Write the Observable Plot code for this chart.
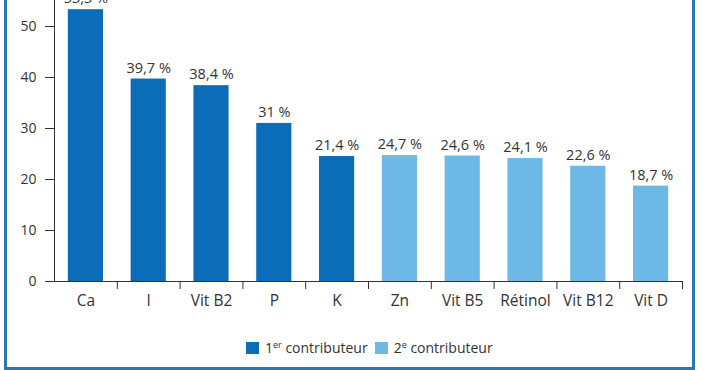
<!DOCTYPE html>
<html><head><meta charset="utf-8">
<script src="https://cdn.jsdelivr.net/npm/d3@7"></script>
<script src="https://cdn.jsdelivr.net/npm/@observablehq/plot@0.6"></script>
<style>
  html,body{margin:0;padding:0;background:#fff;}
  body{width:702px;height:370px;overflow:hidden;position:relative;font-family:"Open Sans",sans-serif;color:#333;}
  #frame{position:absolute;left:4px;top:-6px;width:691px;height:376px;box-sizing:border-box;border:3px solid #2a78b2;pointer-events:none;}
  #chart{position:absolute;left:0;top:0;}
  #legend{position:absolute;top:338px;left:246px;display:flex;align-items:center;font-size:14px;color:#333;white-space:nowrap;}
  .item{display:flex;align-items:center;}
  .item + .item{margin-left:7px;}
  .sw{display:inline-block;width:13px;height:12px;margin-right:6px;}
  sup{font-size:9px;vertical-align:5px;line-height:0;}
</style></head>
<body>
<div id="chart"></div>
<div id="legend"></div>
<div id="frame"></div>
<script>
const nutrients = ["Ca", "I", "Vit B2", "P", "K", "Zn", "Vit B5", "Rétinol", "Vit B12", "Vit D"];
const shares = [53.3, 39.7, 38.4, 31, 24.5, 24.7, 24.6, 24.1, 22.6, 18.7];
const valueLabels = ["53,3 %", "39,7 %", "38,4 %", "31 %", "21,4 %", "24,7 %", "24,6 %", "24,1 %", "22,6 %", "18,7 %"];
const ranks = ["1er", "1er", "1er", "1er", "1er", "2e", "2e", "2e", "2e", "2e"];
const rankNames = ["1er", "2e"];
const rankColors = ["#0b6db8", "#6db8e5"];
const yTicks = [0, 10, 20, 30, 40, 50];

const data = nutrients.map((n, i) => ({nutrient: n, share: shares[i], label: valueLabels[i], rank: ranks[i]}));

const W = 702, mL = 54, mR = 20;
const halfStep = (W - mL - mR) / nutrients.length / 2;

const chart = Plot.plot({
  width: W,
  height: 320,
  marginTop: 0,
  marginLeft: mL,
  marginRight: mR,
  marginBottom: 39,
  style: {fontFamily: "'Open Sans', sans-serif", fontSize: "14px", color: "#333", background: "transparent", overflow: "visible"},
  x: {domain: nutrients, paddingInner: 0.44, paddingOuter: 0.22, round: false, label: null},
  y: {domain: [0, 55.1], label: null},
  color: {domain: rankNames, range: rankColors},
  marks: [
    Plot.barY(data, {x: "nutrient", y: "share", fill: "rank"}),
    Plot.text(data, {x: "nutrient", y: "share", text: "label", dy: -11, fontSize: 14.5, fill: "#333"}),
    Plot.frame({anchor: "left", stroke: "#333", strokeWidth: 1}),
    Plot.ruleY([0], {stroke: "#333", strokeWidth: 1}),
    Plot.ruleX(nutrients, {x: d => d, y1: 0, y2: 0, insetTop: 8, dx: halfStep, stroke: "#333"}),
    Plot.axisY({ticks: yTicks, tickSize: 9, tickPadding: 9, fontSize: 14, stroke: "#333", fill: "#333", label: null}),
    Plot.axisX({tickSize: 0, tickPadding: 13, fontSize: 15.5, fill: "#333", label: null})
  ]
});
document.getElementById("chart").appendChild(chart);

const legend = document.getElementById("legend");
const legendTexts = [["1", "er", " contributeur"], ["2", "e", " contributeur"]];
rankNames.forEach((r, i) => {
  const it = document.createElement("div");
  it.className = "item";
  const sw = document.createElement("span");
  sw.className = "sw";
  sw.style.background = rankColors[i];
  it.appendChild(sw);
  const t = document.createElement("span");
  t.innerHTML = legendTexts[i][0] + "<sup>" + legendTexts[i][1] + "</sup>" + legendTexts[i][2];
  it.appendChild(t);
  legend.appendChild(it);
});
</script>
</body></html>
